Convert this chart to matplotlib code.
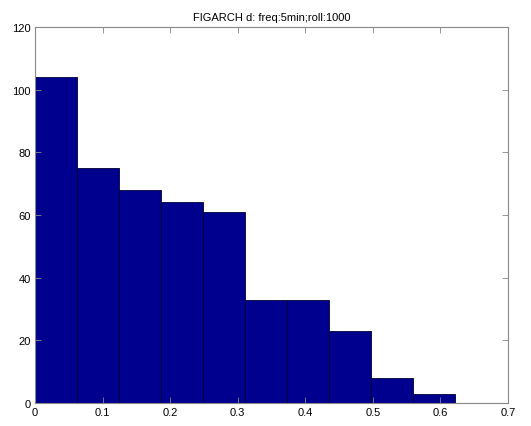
import numpy as np
import matplotlib
matplotlib.use('Agg')
import matplotlib.pyplot as plt

plt.rcParams['font.family'] = ['Liberation Sans', 'DejaVu Sans']

# histogram of estimated FIGARCH d (10 equal bins)
bin_lo = 0.0
bin_hi = 0.622
counts = [104, 75, 68, 64, 61, 33, 33, 23, 8, 3]
x_ticks = [0, 0.1, 0.2, 0.3, 0.4, 0.5, 0.6, 0.7]
y_ticks = [0, 20, 40, 60, 80, 100, 120]

edges = np.linspace(bin_lo, bin_hi, len(counts) + 1)

fig = plt.figure(figsize=(5.31, 4.27), dpi=100)
ax = fig.add_axes([0.0659, 0.0539, 0.8908, 0.8805])
ax.bar(edges[:-1], counts, width=np.diff(edges), align='edge',
       color='#00008f', edgecolor='#000033', linewidth=0.6)

ax.set_xlim(0, 0.7)
ax.set_ylim(0, 120)
ax.set_xticks(x_ticks)
ax.set_xticklabels([f'{v:g}' for v in x_ticks])
ax.set_yticks(y_ticks)
ax.tick_params(direction='in', top=True, right=True, labelsize=8,
               length=4, width=0.6, color='#888888', pad=3)
for s in ax.spines.values():
    s.set_color('#888888')
    s.set_linewidth(0.8)
ax.set_title('FIGARCH d: freq:5min;roll:1000', fontsize=8, pad=5)

plt.savefig('out.png', dpi=100)
plt.close()
